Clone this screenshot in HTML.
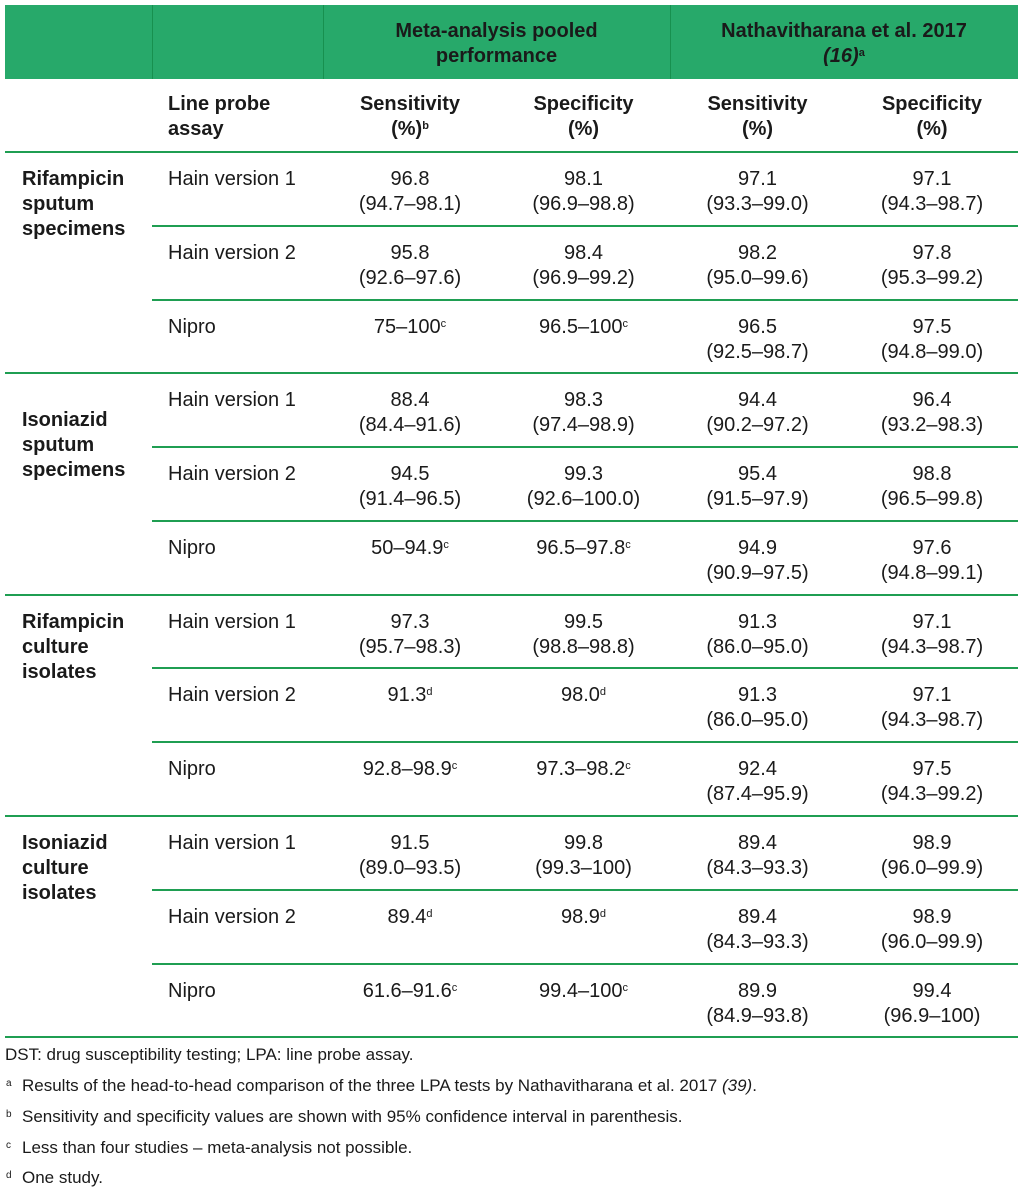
<!DOCTYPE html>
<html><head><meta charset="utf-8">
<style>
body{margin:0;width:1024px;height:1193px;background:#fff;position:relative;overflow:hidden;font-family:"Liberation Sans",sans-serif;color:#1a1a1a}
.a{position:absolute;line-height:25px;font-size:20px;white-space:nowrap}
.b{font-weight:bold}
.c{text-align:center}
sup{font-size:11px;vertical-align:top;position:relative;top:-3px}
.ln{position:absolute;height:2px;background:#1f9e52}
.f{position:absolute;left:22px;font-size:17px;line-height:20px;white-space:nowrap}
.f sup{position:absolute;left:-16px;top:-2px;font-size:10px}
</style></head><body>
<div style="position:absolute;left:5px;top:5px;width:1013px;height:74px;background:#27a96a"></div>
<div style="position:absolute;left:152px;top:5px;width:1px;height:74px;background:#17904f"></div>
<div style="position:absolute;left:323px;top:5px;width:1px;height:74px;background:#17904f"></div>
<div style="position:absolute;left:670px;top:5px;width:1px;height:74px;background:#17904f"></div>
<div class="a b c" style="left:323px;width:347px;top:19px">Meta-analysis pooled<br>performance</div>
<div class="a b c" style="left:670px;width:348px;top:19px">Nathavitharana et al. 2017<br><i>(16)</i><sup>a</sup></div>
<div class="a b" style="left:168px;top:92px">Line probe<br>assay</div>
<div class="a b c" style="left:323px;width:174px;top:92px">Sensitivity<br>(%)<sup>b</sup></div>
<div class="a b c" style="left:497px;width:173px;top:92px">Specificity<br>(%)</div>
<div class="a b c" style="left:670px;width:175px;top:92px">Sensitivity<br>(%)</div>
<div class="a b c" style="left:845px;width:174px;top:92px">Specificity<br>(%)</div>
<div class="ln" style="left:5px;width:1013px;top:151px"></div>
<div id="body"></div>
<div class="f" style="left:5px;top:1045px">DST: drug susceptibility testing; LPA: line probe assay.</div>
<div class="f" style="top:1076px"><sup>a</sup>Results of the head-to-head comparison of the three LPA tests by Nathavitharana et al. 2017 <i>(39)</i>.</div>
<div class="f" style="top:1107px"><sup>b</sup>Sensitivity and specificity values are shown with 95% confidence interval in parenthesis.</div>
<div class="f" style="top:1138px"><sup>c</sup>Less than four studies – meta-analysis not possible.</div>
<div class="f" style="top:1168px"><sup>d</sup>One study.</div>
<script>
const groups=["Rifampicin<br>sputum<br>specimens","Isoniazid<br>sputum<br>specimens","Rifampicin<br>culture<br>isolates","Isoniazid<br>culture<br>isolates"];
const groupOffsets=[0,20,0,0];
const assays=["Hain version 1","Hain version 2","Nipro"];
const metaSens=[["96.8<br>(94.7–98.1)","95.8<br>(92.6–97.6)","75–100<sup>c</sup>"],["88.4<br>(84.4–91.6)","94.5<br>(91.4–96.5)","50–94.9<sup>c</sup>"],["97.3<br>(95.7–98.3)","91.3<sup>d</sup>","92.8–98.9<sup>c</sup>"],["91.5<br>(89.0–93.5)","89.4<sup>d</sup>","61.6–91.6<sup>c</sup>"]];
const metaSpec=[["98.1<br>(96.9–98.8)","98.4<br>(96.9–99.2)","96.5–100<sup>c</sup>"],["98.3<br>(97.4–98.9)","99.3<br>(92.6–100.0)","96.5–97.8<sup>c</sup>"],["99.5<br>(98.8–98.8)","98.0<sup>d</sup>","97.3–98.2<sup>c</sup>"],["99.8<br>(99.3–100)","98.9<sup>d</sup>","99.4–100<sup>c</sup>"]];
const nathSens=[["97.1<br>(93.3–99.0)","98.2<br>(95.0–99.6)","96.5<br>(92.5–98.7)"],["94.4<br>(90.2–97.2)","95.4<br>(91.5–97.9)","94.9<br>(90.9–97.5)"],["91.3<br>(86.0–95.0)","91.3<br>(86.0–95.0)","92.4<br>(87.4–95.9)"],["89.4<br>(84.3–93.3)","89.4<br>(84.3–93.3)","89.9<br>(84.9–93.8)"]];
const nathSpec=[["97.1<br>(94.3–98.7)","97.8<br>(95.3–99.2)","97.5<br>(94.8–99.0)"],["96.4<br>(93.2–98.3)","98.8<br>(96.5–99.8)","97.6<br>(94.8–99.1)"],["97.1<br>(94.3–98.7)","97.1<br>(94.3–98.7)","97.5<br>(94.3–99.2)"],["98.9<br>(96.0–99.9)","98.9<br>(96.0–99.9)","99.4<br>(96.9–100)"]];
const body=document.getElementById('body');
const cols=[[323,174,metaSens,'meta-sensitivity'],[497,173,metaSpec,'meta-specificity'],[670,175,nathSens,'nath-sensitivity'],[845,174,nathSpec,'nath-specificity']];
function mk(cls,html,style){const d=document.createElement('div');d.className=cls;d.innerHTML=html;d.style.cssText=style;body.appendChild(d);return d;}
const gH=221.3,rH=73.8;
groups.forEach((g,gi)=>{
  const gt=152+gi*gH;
  const gl=mk('a b',g,`left:22px;top:${gt+15+groupOffsets[gi]}px`);
  
  
  assays.forEach((a,ri)=>{
    const rt=gt+ri*rH;
    const al=mk('a',a,`left:168px;top:${rt+15}px`);
    
    
    cols.forEach(c=>{
      const cell=mk('a c',c[2][gi][ri],`left:${c[0]}px;width:${c[1]}px;top:${rt+15}px`);
      
      
    });
    if(ri<2){
      const l=mk('ln','',`left:152px;width:866px;top:${rt+rH-1}px`);
      
      
    }
  });
  const gr=mk('ln','',`left:5px;width:1013px;top:${gt+gH-1}px`);
  
  
});
</script>
</body></html>
